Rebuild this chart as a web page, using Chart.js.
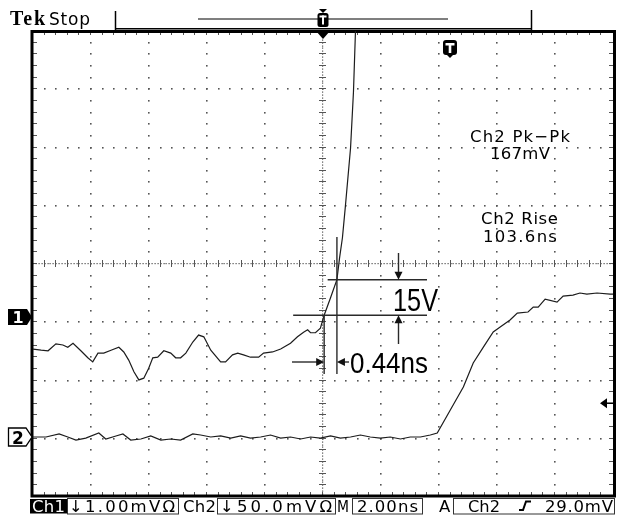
<!DOCTYPE html>
<html>
<head>
<meta charset="utf-8">
<title>Tek Stop – Ch1 / Ch2</title>
<script src="https://cdn.jsdelivr.net/npm/chart.js@4/dist/chart.umd.min.js"></script>
<style>
  html, body { margin: 0; padding: 0; background: #fff; overflow: hidden; }
  #wrap { position: relative; width: 617px; height: 524px; }
</style>
</head>
<body>
<div id="wrap"><canvas id="scope" width="617" height="524"></canvas></div>
<script>
// ---- acquisition settings ----
const timePerDivNs = 2.00;
const ch1ScaleMV = 1.00;          // Ch1 mV per division
const ch2ScaleMV = 50.0;          // Ch2 mV per division
const ch1PositionDiv = -0.91;     // Ch1 ground marker, divisions from centre
const ch2PositionDiv = -2.97;     // Ch2 ground marker, divisions from centre
const triggerLevelMV = 29.0;      // trigger on Ch2

// ---- Ch1 waveform ----
const ch1TimeNs = [-10.0, -9.72, -9.48, -9.21, -8.97, -8.80, -8.62, -8.35, -8.11, -7.94,
                   -7.76, -7.56, -7.31, -7.04, -6.87, -6.70, -6.52, -6.35, -6.18, -6.01,
                   -5.87, -5.70, -5.49, -5.25, -5.08, -4.91, -4.73, -4.49, -4.29, -4.11,
                   -3.87, -3.53, -3.36, -3.12, -2.94, -2.74, -2.50, -2.22, -2.05, -1.74,
                   -1.46, -1.12, -0.88, -0.67, -0.53, -0.43, -0.26, -0.09, 0.04, 0.26,
                   0.48, 0.57, 0.67, 0.77, 0.95, 1.05, 1.12];
const ch1mV     = [-0.55, -0.57, -0.58, -0.46, -0.48, -0.52, -0.45, -0.58, -0.70, -0.77,
                   -0.62, -0.62, -0.57, -0.52, -0.60, -0.74, -0.94, -1.08, -1.05, -0.88,
                   -0.70, -0.69, -0.58, -0.62, -0.70, -0.70, -0.62, -0.43, -0.31, -0.34,
                   -0.57, -0.77, -0.77, -0.65, -0.62, -0.65, -0.69, -0.69, -0.62, -0.60,
                   -0.55, -0.45, -0.34, -0.26, -0.22, -0.27, -0.27, -0.19, 0.03, 0.33,
                   0.64, 1.01, 1.36, 1.89, 2.90, 3.86, 4.91];

// ---- Ch2 waveform ----
const ch2TimeNs = [-10.0, -9.55, -9.10, -8.80, -8.52, -8.18, -7.73, -7.49, -7.14, -6.90,
                   -6.63, -6.28, -5.94, -5.59, -5.25, -4.91, -4.49, -4.22, -3.87, -3.53,
                   -3.18, -2.84, -2.50, -2.15, -1.81, -1.46, -1.12, -0.77, -0.43, -0.09,
                   0.26, 0.60, 0.95, 1.29, 1.63, 1.98, 2.32, 2.67, 3.01, 3.36,
                   3.70, 3.94, 4.39, 4.84, 5.18, 5.53, 5.87, 6.11, 6.45, 6.70,
                   7.07, 7.25, 7.42, 7.66, 8.07, 8.28, 8.62, 8.86, 9.10, 9.45,
                   9.90, 10.0];
const ch2mV     = [0, 0, 2.6, 0, -2.6, -0.9, 3.4, -1.7, 0.9, 2.6,
                   -2.6, -1.7, 0.9, -2.6, -1.7, -2.6, 2.6, 1.7, 0, 0.9,
                   -0.9, 0.9, -0.9, 0, 1.7, -0.9, 0, -1.7, 0, -0.9,
                   0.9, -0.9, 0, 1.7, 0, -0.9, 0, -1.7, 0, 0,
                   1.7, 3.4, 23.2, 42.9, 63.5, 77.2, 90.1, 94.4, 100.4, 106.4,
                   107.3, 111.5, 111.5, 118.4, 115.8, 121.0, 121.8, 123.6, 122.7, 123.6,
                   122.7, 122.7];

// ---- cursors (on Ch1) and readouts ----
const cursorTimesNs = [0.04, 0.48];      // 0.44 ns apart
const cursorLevelsMV = [0.64, 0.03];     // upper, lower
const cursorDeltaV = "15V";
const cursorDeltaT = "0.44ns";
const measureLines = ["Ch2 Pk\u2212Pk", "167mV", "Ch2 Rise", "103.6ns"];

const ch1Label = "\u21931.00mV\u03A9";
const ch2Label = "\u219350.0mV\u03A9";
const timeLabel = "2.00ns";
const trigLabel = "29.0mV";

const DIV_X = 10, DIV_Y = 8, MINOR = 5;

function toPoints(ts, vs, scale, pos) {
  return ts.map((t, i) => ({ x: t, y: vs[i] / scale + pos }));
}

// text placed from its left edge and stretched / squeezed to a given width
function fitText(ctx, text, left, base, width) {
  ctx.letterSpacing = '0px';
  ctx.textAlign = 'left';
  const w = ctx.measureText(text).width;
  const n = [...text].length;
  if (width > w && n > 1) {
    ctx.letterSpacing = ((width - w) / (n - 1)).toFixed(2) + 'px';
    ctx.fillText(text, left, base);
  } else {
    ctx.fillText(text, left, base, width);
  }
  ctx.letterSpacing = '0px';
}

function line(ctx, x1, y1, x2, y2) {
  ctx.beginPath(); ctx.moveTo(x1, y1); ctx.lineTo(x2, y2); ctx.stroke();
}

function arrowHead(ctx, tx, ty, dir, len = 8, half = 4) {
  ctx.beginPath();
  ctx.moveTo(tx, ty);
  if (dir === 'down')  { ctx.lineTo(tx - half, ty - len); ctx.lineTo(tx + half, ty - len); }
  if (dir === 'up')    { ctx.lineTo(tx - half, ty + len); ctx.lineTo(tx + half, ty + len); }
  if (dir === 'right') { ctx.lineTo(tx - len, ty - half); ctx.lineTo(tx - len, ty + half); }
  if (dir === 'left')  { ctx.lineTo(tx + len, ty - half); ctx.lineTo(tx + len, ty + half); }
  ctx.closePath(); ctx.fill();
}

function roundRect(ctx, x, y, w, h, r) {
  ctx.beginPath();
  ctx.roundRect(x, y, w, h, r);
}

function gridPositions(chart) {
  const { x, y } = chart.scales;
  const xs = [], ys = [];
  for (let i = 0; i <= DIV_X * MINOR; i++)
    xs.push(x.getPixelForValue(x.min + i * (x.max - x.min) / (DIV_X * MINOR)));
  for (let j = 0; j <= DIV_Y * MINOR; j++)
    ys.push(y.getPixelForValue(y.max - j * (y.max - y.min) / (DIV_Y * MINOR)));
  return { xs, ys };
}

// graticule: dotted divisions, ticked centre cross, tick marks along the frame
const graticule = {
  id: 'graticule',
  beforeDatasetsDraw(chart) {
    const { ctx, chartArea: a } = chart;
    const { xs, ys } = gridPositions(chart);
    const cx = xs[DIV_X * MINOR / 2], cy = ys[DIV_Y * MINOR / 2];
    ctx.save();
    ctx.fillStyle = '#555';
    // dotted major lines
    for (let i = 1; i < DIV_X; i++) {
      if (i === DIV_X / 2) continue;
      const px = Math.round(xs[i * MINOR]);
      for (let j = 1; j < ys.length - 1; j++) ctx.fillRect(px - 1, Math.round(ys[j]) - 1, 1.6, 1.6);
    }
    for (let j = 1; j < DIV_Y; j++) {
      if (j === DIV_Y / 2) continue;
      const py = Math.round(ys[j * MINOR]);
      for (let i = 1; i < xs.length - 1; i++) ctx.fillRect(Math.round(xs[i]) - 1, py - 1, 1.6, 1.6);
    }
    // centre cross: fine dots plus ticks
    const step = (xs[1] - xs[0]) / 4;
    for (let px = a.left; px <= a.right; px += step) ctx.fillRect(Math.round(px) - 0.5, Math.round(cy) - 1, 1.2, 1.2);
    const stepY = (ys[1] - ys[0]) / 4;
    for (let py = a.top; py <= a.bottom; py += stepY) ctx.fillRect(Math.round(cx) - 1, Math.round(py) - 0.5, 1.2, 1.2);
    ctx.strokeStyle = '#555';
    ctx.lineWidth = 1;
    for (let i = 1; i < xs.length - 1; i++) {
      const px = Math.round(xs[i]) - 0.5;
      line(ctx, px, cy - 4, px, cy + 3);
      line(ctx, px, a.top, px, a.top + 4);
      line(ctx, px, a.bottom - 5, px, a.bottom - 1);
    }
    for (let j = 1; j < ys.length - 1; j++) {
      const py = Math.round(ys[j]) - 0.5;
      line(ctx, cx - 4, py, cx + 3, py);
      line(ctx, a.left, py, a.left + 4, py);
      line(ctx, a.right - 4, py, a.right, py);
    }
    // frame
    ctx.strokeStyle = '#000';
    ctx.lineWidth = 3;
    ctx.strokeRect(a.left - 1, a.top + 0.5, a.width + 2.5, a.height - 1.5);
    ctx.restore();
  },
  afterDatasetsDraw(chart) {
    const { ctx, chartArea: a, scales: { x, y } } = chart;
    ctx.save();
    const cx1 = x.getPixelForValue(cursorTimesNs[0]);
    const cx2 = x.getPixelForValue(cursorTimesNs[1]);
    const cyU = y.getPixelForValue(cursorLevelsMV[0] / ch1ScaleMV + ch1PositionDiv);
    const cyL = y.getPixelForValue(cursorLevelsMV[1] / ch1ScaleMV + ch1PositionDiv);
    ctx.strokeStyle = '#2a2a2a';
    ctx.fillStyle = '#111';
    ctx.lineWidth = 1.4;
    // horizontal (voltage) cursors
    line(ctx, cx1 + 3.5, cyU, 427, cyU);
    line(ctx, cx1 - 31, cyL, 427, cyL);
    // vertical (time) cursors
    line(ctx, cx1, cyL, cx1, 374);
    line(ctx, cx2, 237, cx2, 374);
    // delta-V arrows
    line(ctx, 398.5, 253, 398.5, cyU - 7);
    arrowHead(ctx, 398.5, cyU, 'down');
    line(ctx, 398.5, cyL + 7, 398.5, 344);
    arrowHead(ctx, 398.5, cyL, 'up');
    // delta-t arrows
    line(ctx, 292, 362, cx1 - 7, 362);
    arrowHead(ctx, cx1, 362, 'right');
    line(ctx, cx2 + 7, 362, 349, 362);
    arrowHead(ctx, cx2, 362, 'left');
    // cursor readouts
    ctx.fillStyle = '#000';
    ctx.font = '32px "Liberation Sans", Arial, sans-serif';
    fitText(ctx, cursorDeltaV, 393, 311, 45);
    ctx.font = '29px "Liberation Sans", Arial, sans-serif';
    fitText(ctx, cursorDeltaT, 350, 373, 78);

    // measurement readouts
    ctx.font = '16.5px "DejaVu Sans", sans-serif';
    fitText(ctx, measureLines[0], 470, 142, 100);
    fitText(ctx, measureLines[1], 490, 159, 60);
    fitText(ctx, measureLines[2], 481, 224, 77);
    fitText(ctx, measureLines[3], 483, 242, 74);

    // trigger point marker on the display
    roundRect(ctx, 443, 40, 14, 15, 3); ctx.fill();
    ctx.beginPath(); ctx.moveTo(446, 54); ctx.lineTo(450, 58); ctx.lineTo(454, 54); ctx.fill();
    ctx.fillStyle = '#fff';
    ctx.fillRect(445.5, 43, 9, 2.5);
    ctx.fillRect(448.7, 43, 2.6, 10);

    // trigger position marker at the top of the graticule
    ctx.fillStyle = '#000';
    const tx = x.getPixelForValue(0);
    ctx.beginPath(); ctx.moveTo(tx - 7, a.top); ctx.lineTo(tx + 7, a.top); ctx.lineTo(tx, a.top + 8); ctx.fill();

    // trigger level marker on the right edge
    const ty = y.getPixelForValue(triggerLevelMV / ch2ScaleMV + ch2PositionDiv);
    arrowHead(ctx, a.right - 13, ty, 'left', 7, 5);
    ctx.strokeStyle = '#000';
    ctx.lineWidth = 1.5;
    line(ctx, a.right - 7, ty, a.right, ty);

    // channel ground markers
    const g1 = y.getPixelForValue(ch1PositionDiv);
    const g2 = y.getPixelForValue(ch2PositionDiv);
    ctx.beginPath();
    ctx.moveTo(8, g1 - 8); ctx.lineTo(27, g1 - 8); ctx.lineTo(32, g1); ctx.lineTo(27, g1 + 8); ctx.lineTo(8, g1 + 8);
    ctx.closePath(); ctx.fill();
    ctx.fillStyle = '#fff';
    ctx.font = 'bold 16px "DejaVu Sans", sans-serif';
    ctx.textAlign = 'center';
    ctx.fillText('1', 18, g1 + 6);
    ctx.beginPath();
    ctx.moveTo(8.5, g2 - 9); ctx.lineTo(26, g2 - 9); ctx.lineTo(32, g2); ctx.lineTo(26, g2 + 9); ctx.lineTo(8.5, g2 + 9);
    ctx.closePath(); ctx.fill();
    ctx.strokeStyle = '#000'; ctx.lineWidth = 1.3; ctx.stroke();
    ctx.fillStyle = '#000';
    ctx.font = 'bold 17px "DejaVu Sans", sans-serif';
    ctx.fillText('2', 18, g2 + 6.5);
    ctx.restore();
  },
  afterDraw(chart) {
    const { ctx } = chart;
    ctx.save();
    ctx.fillStyle = '#000';
    ctx.strokeStyle = '#000';
    // top status line
    ctx.font = 'bold 20px "Liberation Serif", "DejaVu Serif", serif';
    fitText(ctx, 'Tek', 10, 25, 35);
    ctx.font = '17px "DejaVu Sans", sans-serif';
    fitText(ctx, 'Stop', 49, 25, 41);
    // record view bracket
    ctx.lineWidth = 1.5;
    line(ctx, 115.5, 11, 115.5, 30);
    line(ctx, 531.5, 10, 531.5, 30);
    line(ctx, 115, 28.8, 532, 28.8);
    ctx.strokeStyle = '#555';
    line(ctx, 198, 19, 448, 19);
    // trigger marker in the record view
    const tx = chart.scales.x.getPixelForValue(0);
    ctx.beginPath(); ctx.moveTo(tx - 4, 9); ctx.lineTo(tx + 4, 9); ctx.lineTo(tx, 13); ctx.fill();
    roundRect(ctx, tx - 5.5, 13, 11, 14, 2.5); ctx.fill();
    ctx.fillStyle = '#fff';
    ctx.fillRect(tx - 3.5, 15.5, 7, 2);
    ctx.fillRect(tx - 1, 15.5, 2, 9);

    // bottom status line
    const base = 511.5;
    ctx.fillStyle = '#000';
    ctx.fillRect(30, 499, 37, 14.5);
    ctx.fillStyle = '#fff';
    ctx.font = '16.5px "DejaVu Sans", sans-serif';
    fitText(ctx, 'Ch1', 32, base, 33);
    ctx.fillStyle = '#000';
    ctx.strokeStyle = '#333';
    ctx.lineWidth = 1;
    ctx.strokeRect(67.5, 498.5, 111, 15.5);
    fitText(ctx, ch1Label, 69, base, 106);
    fitText(ctx, 'Ch2', 183, base, 33);
    ctx.strokeRect(217.5, 498.5, 118, 15.5);
    fitText(ctx, ch2Label, 220, base, 112);
    fitText(ctx, 'M', 337, base, 12);
    ctx.strokeRect(352.5, 498.5, 70, 15.5);
    fitText(ctx, timeLabel, 357, base, 61);
    fitText(ctx, 'A', 439, base, 13);
    ctx.strokeRect(453.5, 498.5, 161, 15.5);
    fitText(ctx, 'Ch2', 468, base, 32);
    // rising-edge slope symbol
    ctx.strokeStyle = '#000';
    ctx.lineWidth = 2;
    ctx.beginPath();
    ctx.moveTo(519, 510); ctx.lineTo(523, 510); ctx.lineTo(526, 501.5); ctx.lineTo(531, 501.5);
    ctx.stroke();
    fitText(ctx, trigLabel, 545, base, 68);
    ctx.restore();
  }
};

const xMax = timePerDivNs * DIV_X / 2;

new Chart(document.getElementById('scope'), {
  type: 'scatter',
  data: {
    datasets: [
      {
        label: 'Ch1',
        data: toPoints(ch1TimeNs, ch1mV, ch1ScaleMV, ch1PositionDiv),
        showLine: true,
        borderColor: '#1c1c1c',
        borderWidth: 1.2,
        pointRadius: 0,
        tension: 0
      },
      {
        label: 'Ch2',
        data: toPoints(ch2TimeNs, ch2mV, ch2ScaleMV, ch2PositionDiv),
        showLine: true,
        borderColor: '#1c1c1c',
        borderWidth: 1.2,
        pointRadius: 0,
        tension: 0
      }
    ]
  },
  options: {
    responsive: false,
    animation: false,
    events: [],
    layout: { padding: { left: 33, right: 4, top: 31, bottom: 27 } },
    plugins: { legend: { display: false }, tooltip: { enabled: false } },
    scales: {
      x: { type: 'linear', min: -xMax, max: xMax, display: false },
      y: { type: 'linear', min: -DIV_Y / 2, max: DIV_Y / 2, display: false }
    }
  },
  plugins: [graticule]
});
</script>
</body>
</html>
